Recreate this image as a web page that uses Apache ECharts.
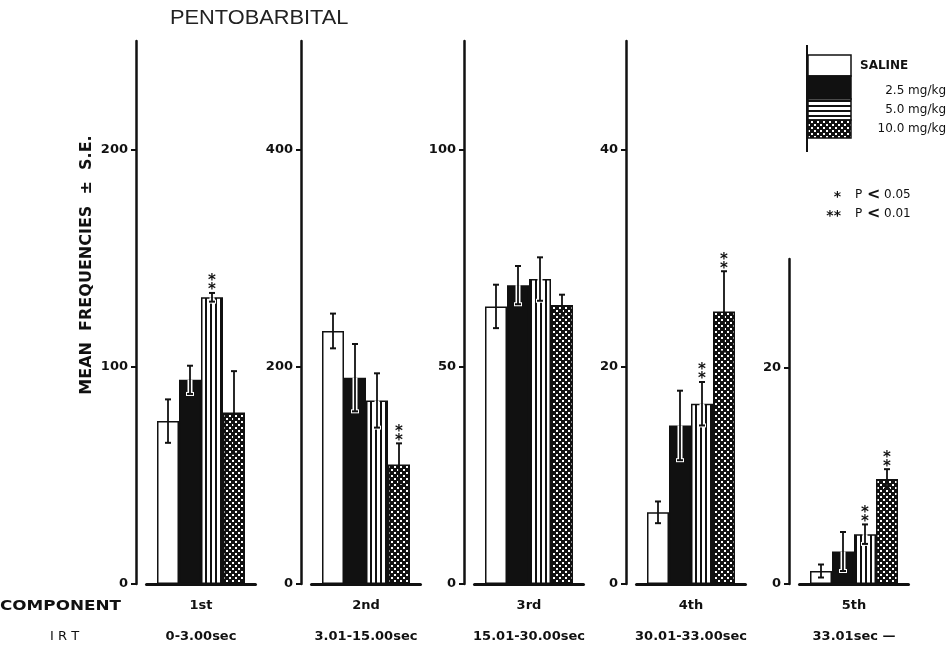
<!DOCTYPE html>
<html>
<head>
<meta charset="utf-8">
<script src="https://cdn.jsdelivr.net/npm/echarts@6/dist/echarts.min.js"></script>
<style>
  html, body { margin: 0; padding: 0; background: #fff; }
  #chart { width: 952px; height: 652px; }
</style>
</head>
<body>
<div id="chart"></div>
<script>
// components (x categories) and inter-response-time labels
const components = ['1st', '2nd', '3rd', '4th', '5th'];
const irtLabels = ['0-3.00sec', '3.01-15.00sec', '15.01-30.00sec', '30.01-33.00sec', '33.01sec \u2014'];
const doses = ['SALINE', '2.5 mg/kg', '5.0 mg/kg', '10.0 mg/kg'];

// mean frequencies per component
const saline  = [75, 233, 63.9, 6.6, 1.2];
const dose25  = [94, 190, 68.8, 14.6, 3.0];
const dose50  = [132, 169, 70.2, 16.6, 4.6];
const dose100 = [79, 110, 64.2, 25.1, 9.7];

// standard errors
const salineErr  = [10, 16, 5, 1, 0.6];
const dose25Err  = [6.5, 31, 4.4, 3.2, 1.8];
const dose50Err  = [2, 25, 5, 2, 0.9];
const dose100Err = [19, 19.5, 2.4, 3.7, 0.9];

// significance marks
const salineSig  = ['', '', '', '', ''];
const dose25Sig  = ['', '', '', '', ''];
const dose50Sig  = ['**', '', '', '**', '**'];
const dose100Sig = ['', '**', '', '**', '**'];

// y axis ranges and ticks per panel
const yMax = [250, 500, 125, 50, 30];
const yTicks = [[0, 100, 200], [0, 200, 400], [0, 50, 100], [0, 20, 40], [0, 20]];

const values = [saline, dose25, dose50, dose100];
const errs = [salineErr, dose25Err, dose50Err, dose100Err];
const sigs = [salineSig, dose25Sig, dose50Sig, dose100Sig];

const axisX = [136, 301, 464, 626, 789];
const barW = 22;
const FONT = '"DejaVu Sans", sans-serif';

function makePattern(kind) {
    const c = document.createElement('canvas');
    const ctx = c.getContext('2d');
    if (kind === 'vstripe') {
        c.width = 5; c.height = 5;
        ctx.fillStyle = '#fff'; ctx.fillRect(0, 0, 5, 5);
        ctx.fillStyle = '#111'; ctx.fillRect(0, 0, 2, 5);
    } else if (kind === 'hstripe') {
        c.width = 5; c.height = 5;
        ctx.fillStyle = '#fff'; ctx.fillRect(0, 0, 5, 5);
        ctx.fillStyle = '#111'; ctx.fillRect(0, 0, 5, 2);
    } else {
        c.width = 6; c.height = 6;
        ctx.fillStyle = '#111'; ctx.fillRect(0, 0, 6, 6);
        ctx.fillStyle = '#fff';
        ctx.fillRect(1, 1, 2, 2);
        ctx.fillRect(4, 4, 2, 2);
    }
    return { image: c, repeat: 'repeat' };
}

const fills = ['#fff', '#111', makePattern('vstripe'), makePattern('check')];
const legendFills = ['#fff', '#111', makePattern('hstripe'), makePattern('check')];

const grids = [], xAxes = [], yAxes = [], series = [];

components.forEach((comp, p) => {
    const top = p === 4 ? 259 : 41;
    grids.push({ left: axisX[p] + 10.5, top: top, width: 109, height: 584 - top });
    xAxes.push({
        type: 'category',
        gridIndex: p,
        data: [comp],
        axisLine: { lineStyle: { color: '#111', width: 3 } },
        axisTick: { show: false },
        axisLabel: {
            interval: 0,
            margin: 10,
            formatter: () => '{c|' + comp + '}\n{i|' + irtLabels[p] + '}',
            rich: {
                c: { fontFamily: FONT, fontSize: 13, fontWeight: 'bold', color: '#111', lineHeight: 24 },
                i: { fontFamily: FONT, fontSize: 13, fontWeight: 'bold', color: '#111', lineHeight: 38 }
            }
        }
    });
    yAxes.push({
        type: 'value',
        gridIndex: p,
        min: 0,
        max: yMax[p],
        offset: 10.5,
        axisLine: { show: true, lineStyle: { color: '#111', width: 2.5 } },
        axisTick: { show: true, length: 5, customValues: yTicks[p], lineStyle: { color: '#111', width: 2 } },
        axisLabel: {
            customValues: yTicks[p],
            margin: 8,
            fontFamily: FONT, fontSize: 13, fontWeight: 'bold', color: '#111'
        },
        splitLine: { show: false }
    });

    doses.forEach((dose, i) => {
        series.push({
            name: dose,
            type: 'bar',
            xAxisIndex: p,
            yAxisIndex: p,
            barWidth: barW,
            barGap: '0%',
            data: [values[i][p]],
            itemStyle: { color: fills[i], borderColor: '#111', borderWidth: 1.5 },
            silent: true
        });
    });

    series.push({
        type: 'custom',
        xAxisIndex: p,
        yAxisIndex: p,
        z: 10,
        silent: true,
        data: doses.map((d, i) => [0, values[i][p] + errs[i][p]]),
        renderItem: (params, api) => {
            const i = params.dataIndex;
            const v = values[i][p], e = errs[i][p], s = sigs[i][p];
            const x = api.coord([0, 0])[0] + (i - 1.5) * barW;
            const yTop = api.coord([0, v + e])[1];
            const yBot = api.coord([0, v - e])[1];
            const yVal = api.coord([0, v])[1];
            const kids = [];
            if (i === 1 || i === 2) {
                kids.push({ type: 'line', shape: { x1: x, y1: yVal, x2: x, y2: yBot }, style: { stroke: '#fff', lineWidth: 5 } });
                kids.push({ type: 'line', shape: { x1: x - 4, y1: yBot, x2: x + 4, y2: yBot }, style: { stroke: '#fff', lineWidth: 4 } });
            }
            kids.push({ type: 'line', shape: { x1: x, y1: yTop, x2: x, y2: yBot }, style: { stroke: '#111', lineWidth: 1.8 } });
            kids.push({ type: 'line', shape: { x1: x - 3, y1: yTop, x2: x + 3, y2: yTop }, style: { stroke: '#111', lineWidth: 2 } });
            kids.push({ type: 'line', shape: { x1: x - 3, y1: yBot, x2: x + 3, y2: yBot }, style: { stroke: '#111', lineWidth: 2 } });
            if (s) {
                kids.push({
                    type: 'text',
                    style: {
                        text: s.split('').join('\n'), x: x, y: yTop + 2,
                        align: 'center', verticalAlign: 'bottom',
                        font: 'bold 15px ' + FONT, lineHeight: 9, fill: '#111'
                    }
                });
            }
            return { type: 'group', children: kids };
        }
    });
});

// title, axis name, row labels and legend
const graphic = [
    { type: 'text', x: 170, y: 8, scaleX: 1.09, style: { text: 'PENTOBARBITAL', font: '20px "Liberation Sans", sans-serif', fill: '#222' } },
    {
        type: 'text', x: 87, y: 265, rotation: Math.PI / 2,
        style: { text: 'MEAN  FREQUENCIES  \u00b1  S.E.', font: 'bold 16px ' + FONT, fill: '#111', align: 'center', verticalAlign: 'middle' }
    },
    { type: 'text', x: 0, y: 606, scaleX: 1.2, style: { text: 'COMPONENT', font: 'bold 14px ' + FONT, fill: '#111', verticalAlign: 'middle' } },
    { type: 'text', x: 50, y: 637, style: { text: 'I R T', font: '13px ' + FONT, fill: '#111', verticalAlign: 'middle' } },
    { type: 'line', shape: { x1: 807, y1: 45, x2: 807, y2: 152 }, style: { stroke: '#111', lineWidth: 2 } }
];
const legendRows = [[55, 76], [76, 99], [99, 120], [120, 138]];
const legendTextY = [66, 91, 110, 129];
doses.forEach((dose, i) => {
    graphic.push({
        type: 'rect',
        shape: { x: 808, y: legendRows[i][0], width: 43, height: legendRows[i][1] - legendRows[i][0] },
        style: { fill: legendFills[i], stroke: '#111', lineWidth: 1.5 }
    });
    graphic.push({
        type: 'text', x: i === 0 ? 860 : 946, y: legendTextY[i],
        style: { text: dose, font: (i === 0 ? 'bold ' : '') + '12px ' + FONT, fill: '#111', align: i === 0 ? 'left' : 'right', verticalAlign: 'middle' }
    });
});
[['*', '0.05', 195], ['**', '0.01', 214]].forEach(([st, pv, y]) => {
    graphic.push({ type: 'text', x: 841, y: y + 2, style: { text: st, font: 'bold 14px ' + FONT, fill: '#111', align: 'right', verticalAlign: 'middle' } });
    graphic.push({ type: 'text', x: 855, y: y, style: { text: 'P', font: '12px ' + FONT, fill: '#111', verticalAlign: 'middle' } });
    graphic.push({ type: 'text', x: 867, y: y, style: { text: '<', font: 'bold 16px ' + FONT, fill: '#111', verticalAlign: 'middle' } });
    graphic.push({ type: 'text', x: 884, y: y, style: { text: pv, font: '12px ' + FONT, fill: '#111', verticalAlign: 'middle' } });
});

const myChart = echarts.init(document.getElementById('chart'));
myChart.setOption({
    animation: false,
    backgroundColor: '#fff',
    grid: grids,
    xAxis: xAxes,
    yAxis: yAxes,
    series: series,
    graphic: graphic
});
</script>
</body>
</html>
